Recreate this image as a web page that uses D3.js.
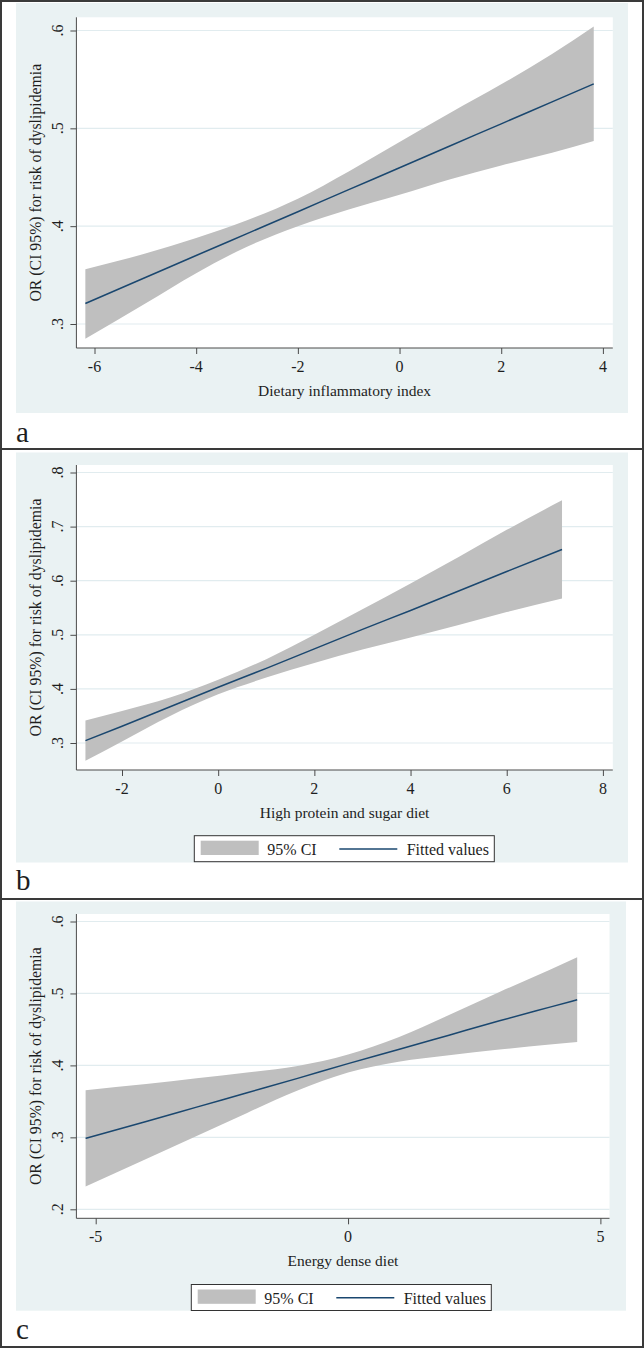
<!DOCTYPE html>
<html>
<head>
<meta charset="utf-8">
<script src="https://cdn.jsdelivr.net/npm/d3@7"></script>
<style>
  html, body { margin: 0; padding: 0; background: #ffffff; }
  svg { display: block; }
  text { font-family: "Liberation Serif", "Times New Roman", serif; fill: #1e1e1e; }
</style>
</head>
<body>
<div id="chart"></div>
<script>
// ---------------- DATA ----------------
// Panel a: Dietary inflammatory index
const diiX     = [-6.18, -5, -4, -3, -2, -1, 0, 1, 2, 3, 3.82];
const diiFit   = [0.321, 0.3475, 0.370, 0.3924, 0.4148, 0.4373, 0.4597, 0.4822, 0.5046, 0.5271, 0.5455];
const diiLower = [0.285, 0.321, 0.352, 0.379, 0.400, 0.417, 0.432, 0.448, 0.462, 0.475, 0.487];
const diiUpper = [0.356, 0.372, 0.388, 0.406, 0.428, 0.456, 0.486, 0.516, 0.545, 0.576, 0.604];
const diiXTicks = [-6, -4, -2, 0, 2, 4];
const diiYTicks = [0.3, 0.4, 0.5, 0.6];

// Panel b: High protein and sugar diet
const hpsX     = [-2.76, -2, -1, 0, 1, 2, 3, 4, 5, 6, 7.15];
const hpsFit   = [0.3043, 0.331, 0.367, 0.403, 0.438, 0.474, 0.510, 0.545, 0.581, 0.617, 0.6577];
const hpsLower = [0.267, 0.303, 0.350, 0.390, 0.421, 0.448, 0.473, 0.495, 0.518, 0.542, 0.567];
const hpsUpper = [0.3415, 0.359, 0.384, 0.417, 0.455, 0.500, 0.547, 0.595, 0.644, 0.694, 0.7486];
const hpsXTicks = [-2, 0, 2, 4, 6, 8];
const hpsYTicks = [0.3, 0.4, 0.5, 0.6, 0.7, 0.8];

// Panel c: Energy dense diet
const edX     = [-5.2, -4, -3, -2, -1, 0, 1, 2, 3, 4, 4.54];
const edFit   = [0.2986, 0.322, 0.342, 0.362, 0.382, 0.4025, 0.422, 0.442, 0.462, 0.481, 0.4912];
const edLower = [0.2316, 0.270, 0.302, 0.334, 0.365, 0.390, 0.405, 0.414, 0.422, 0.429, 0.4326];
const edUpper = [0.3656, 0.374, 0.382, 0.390, 0.399, 0.415, 0.439, 0.470, 0.502, 0.533, 0.5502];
const edXTicks = [-5, 0, 5];
const edYTicks = [0.2, 0.3, 0.4, 0.5, 0.6];

const yTitle = "OR (CI 95%) for risk of dyslipidemia";
const xTitles = ["Dietary inflammatory index", "High protein and sugar diet", "Energy dense diet"];
const panelLetters = ["a", "b", "c"];
const legendLabels = ["95% CI", "Fitted values"];

// ---------------- STYLE / LAYOUT ----------------
const W = 644, H = 1348;
const BG = "#eaf2f3", GRID = "#e1ecef", CI = "#bfbfbf", LINE = "#1a476f", AXIS = "#4a4a4a", FRAME = "#3a3a3a";

const panels = [
  { x: diiX, fit: diiFit, lo: diiLower, hi: diiUpper, xt: diiXTicks, yt: diiYTicks,
    bg: [16, 3, 628, 413], plot: [76.4, 17.3, 612.8, 348],
    xr: [94.5, 602.9], yr: [324, 30.5], letterY: 441.5, legend: null },
  { x: hpsX, fit: hpsFit, lo: hpsLower, hi: hpsUpper, xt: hpsXTicks, yt: hpsYTicks,
    bg: [16, 452.5, 628, 862.5], plot: [76.4, 465, 612.8, 770],
    xr: [122, 602.9], yr: [743, 472.5], letterY: 890, legend: [194.3, 835.7] },
  { x: edX, fit: edFit, lo: edLower, hi: edUpper, xt: edXTicks, yt: edYTicks,
    bg: [16, 901.5, 626, 1310.7], plot: [76.4, 914, 609.5, 1218.3],
    xr: [95.7, 600.4], yr: [1209.3, 921.5], letterY: 1339, legend: [191.3, 1284.5] }
];

const svg = d3.select("#chart").append("svg")
  .attr("width", W).attr("height", H).attr("viewBox", `0 0 ${W} ${H}`);

svg.append("rect").attr("x", 0).attr("y", 0).attr("width", W).attr("height", H).attr("fill", "#fff");

const yFmt = v => d3.format(".1f")(v).replace(/^0/, "");
const xFmt = v => String(v);

panels.forEach((p, i) => {
  const g = svg.append("g");
  const [bx0, by0, bx1, by1] = p.bg;
  const [px0, py0, px1, py1] = p.plot;

  g.append("rect").attr("x", bx0).attr("y", by0).attr("width", bx1 - bx0).attr("height", by1 - by0).attr("fill", BG);
  g.append("rect").attr("x", px0).attr("y", py0).attr("width", px1 - px0).attr("height", py1 - py0).attr("fill", "#fff");

  const xs = d3.scaleLinear().domain([p.xt[0], p.xt[p.xt.length - 1]]).range(p.xr);
  const ys = d3.scaleLinear().domain([p.yt[0], p.yt[p.yt.length - 1]]).range(p.yr);

  // gridlines
  g.selectAll(".grid").data(p.yt).join("line")
    .attr("x1", px0).attr("x2", px1)
    .attr("y1", d => ys(d)).attr("y2", d => ys(d))
    .attr("stroke", GRID).attr("stroke-width", 1.2);

  const rows = p.x.map((xv, k) => ({ x: xv, fit: p.fit[k], lo: p.lo[k], hi: p.hi[k] }));

  g.append("path").datum(rows)
    .attr("d", d3.area().x(d => xs(d.x)).y0(d => ys(d.lo)).y1(d => ys(d.hi)).curve(d3.curveMonotoneX))
    .attr("fill", CI);

  g.append("path").datum(rows)
    .attr("d", d3.line().x(d => xs(d.x)).y(d => ys(d.fit)).curve(d3.curveMonotoneX))
    .attr("fill", "none").attr("stroke", LINE).attr("stroke-width", 1.5);

  // Y axis
  const ya = g.append("g").attr("transform", `translate(${px0},0)`)
    .call(d3.axisLeft(ys).tickValues(p.yt).tickSize(6).tickFormat(""));
  ya.select(".domain").attr("d", `M0,${py0}V${py1}`).attr("stroke", AXIS);
  ya.selectAll(".tick line").attr("stroke", AXIS);
  g.selectAll(".ylab").data(p.yt).join("text")
    .attr("transform", d => `translate(63,${ys(d)}) rotate(-90)`)
    .attr("text-anchor", "middle").attr("font-size", 16).text(yFmt);

  // X axis
  const xa = g.append("g").attr("transform", `translate(0,${py1})`)
    .call(d3.axisBottom(xs).tickValues(p.xt).tickSize(6).tickFormat(""));
  xa.select(".domain").attr("d", `M${px0},0H${px1}`).attr("stroke", AXIS);
  xa.selectAll(".tick line").attr("stroke", AXIS);
  g.selectAll(".xlab").data(p.xt).join("text")
    .attr("x", d => xs(d)).attr("y", py1 + 23.5)
    .attr("text-anchor", "middle").attr("font-size", 16).text(xFmt);

  // Titles
  g.append("text").attr("x", (px0 + px1) / 2).attr("y", py1 + 47.5)
    .attr("text-anchor", "middle").attr("font-size", 15.5).text(xTitles[i]);
  g.append("text").attr("transform", `translate(40.5,${(py0 + py1) / 2}) rotate(-90)`)
    .attr("text-anchor", "middle").attr("font-size", 15.8).text(yTitle);

  // Legend
  if (p.legend) {
    const [lx, ly] = p.legend;
    const lg = g.append("g").attr("transform", `translate(${lx},${ly})`);
    lg.append("rect").attr("x", 0).attr("y", 0).attr("width", 300).attr("height", 26)
      .attr("fill", "#fff").attr("stroke", "#333").attr("stroke-width", 1);
    lg.append("rect").attr("x", 6.4).attr("y", 5).attr("width", 58).attr("height", 14.3).attr("fill", CI);
    lg.append("text").attr("x", 73).attr("y", 19).attr("font-size", 16).text(legendLabels[0]);
    lg.append("line").attr("x1", 145).attr("x2", 203).attr("y1", 13.3).attr("y2", 13.3)
      .attr("stroke", LINE).attr("stroke-width", 1.5);
    lg.append("text").attr("x", 212.4).attr("y", 19).attr("font-size", 16).text(legendLabels[1]);
  }

  // Panel letter
  g.append("text").attr("x", 16).attr("y", p.letterY).attr("font-size", 29).text(panelLetters[i]);
});

// Frame lines
svg.append("rect").attr("x", 1).attr("y", 1).attr("width", W - 2).attr("height", H - 2)
  .attr("fill", "none").attr("stroke", FRAME).attr("stroke-width", 2);
[449, 899].forEach(yv => {
  svg.append("line").attr("x1", 0).attr("x2", W).attr("y1", yv).attr("y2", yv)
    .attr("stroke", FRAME).attr("stroke-width", 2);
});
</script>
</body>
</html>
